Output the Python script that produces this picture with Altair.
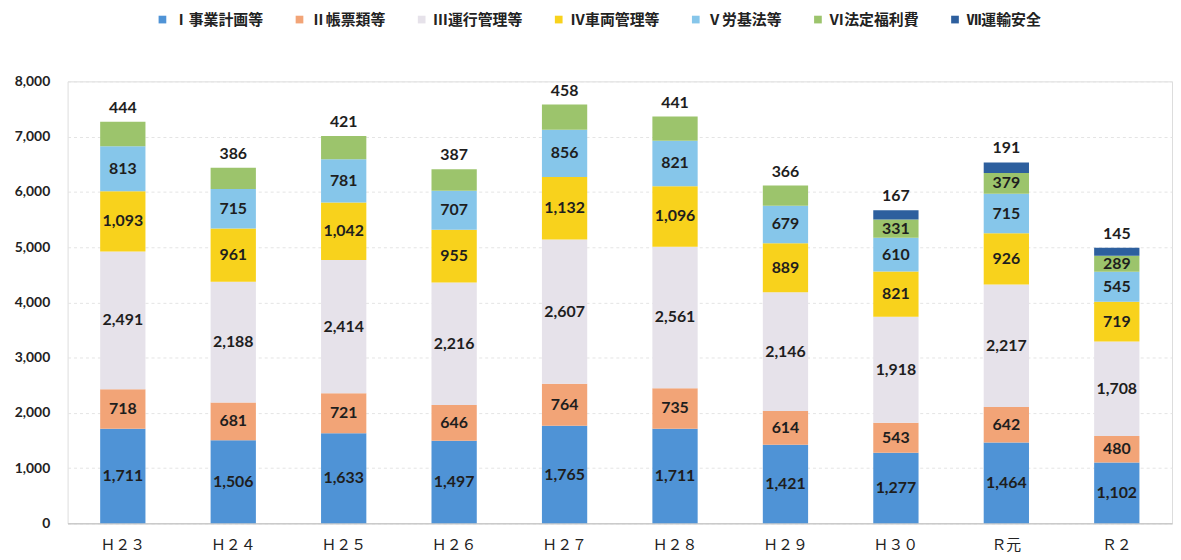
import altair as alt
import pandas as pd

categories = ["Ｈ２３", "Ｈ２４", "Ｈ２５", "Ｈ２６", "Ｈ２７", "Ｈ２８", "Ｈ２９", "Ｈ３０", "Ｒ元", "Ｒ２"]
series_names = ["Ⅰ事業計画等", "Ⅱ帳票類等", "Ⅲ運行管理等", "Ⅳ車両管理等", "Ⅴ労基法等", "Ⅵ法定福利費", "Ⅶ運輸安全"]
s1 = [1711, 1506, 1633, 1497, 1765, 1711, 1421, 1277, 1464, 1102]
s2 = [718, 681, 721, 646, 764, 735, 614, 543, 642, 480]
s3 = [2491, 2188, 2414, 2216, 2607, 2561, 2146, 1918, 2217, 1708]
s4 = [1093, 961, 1042, 955, 1132, 1096, 889, 821, 926, 719]
s5 = [813, 715, 781, 707, 856, 821, 679, 610, 715, 545]
s6 = [444, 386, 421, 387, 458, 441, 366, 331, 379, 289]
s7 = [0, 0, 0, 0, 0, 0, 0, 167, 191, 145]
colors = ["#4f93d6", "#f2a477", "#e6e2ea", "#f8d21c", "#86c6ea", "#9cc46c", "#2d5f9e"]

all_series = [s1, s2, s3, s4, s5, s6, s7]
rows = []
for ci, cat in enumerate(categories):
    vals = [s[ci] for s in all_series]
    last = max(i for i, v in enumerate(vals) if v > 0)
    for si, name in enumerate(series_names):
        rows.append({"cat": cat, "series": name, "order": si, "value": vals[si],
                     "top": si == last})
df = pd.DataFrame(rows)

num_font = "Lato"
jp_font = "Noto Sans CJK JP"

base = alt.Chart(df).transform_filter("datum.value > 0").transform_stack(
    stack="value", as_=["y0", "y1"], groupby=["cat"], sort=[alt.SortField("order", order="ascending")]
).transform_calculate(ymid="(datum.y0 + datum.y1) / 2")

xenc = alt.X("cat:N", sort=categories,
             scale=alt.Scale(paddingInner=0.59, paddingOuter=0.295),
             axis=alt.Axis(title=None, labelAngle=0, labelFont=jp_font, labelFontSize=15,
                           labelColor="#222", labelPadding=14, ticks=False,
                           domainColor="#bbbbbb", domainWidth=1))

bars = base.mark_bar().encode(
    x=xenc,
    y=alt.Y("y0:Q", scale=alt.Scale(domain=[0, 8000]),
            axis=alt.Axis(title=None, values=list(range(0, 8001, 1000)), format=",d",
                          labelFont=num_font, labelFontSize=14, labelColor="#222",
                          labelFontWeight="bold", labelPadding=18, ticks=False, domain=False,
                          grid=True, gridColor="#e4e4e4", gridDash=[3, 3])),
    y2="y1:Q",
    color=alt.Color("series:N", sort=series_names,
                    scale=alt.Scale(domain=series_names, range=colors),
                    legend=alt.Legend(title=None, orient="none", direction="horizontal",
                                      columns=7, legendX=88, legendY=-70,
                                      symbolType="square", symbolSize=60,
                                      labelFont=jp_font, labelFontSize=15,
                                      labelFontWeight="bold", labelColor="#222",
                                      columnPadding=28, symbolStrokeWidth=0)),
    order=alt.Order("order:Q"),
)

inner = base.transform_filter("!datum.top").mark_text(
    font=num_font, fontSize=16, fontWeight="bold", color="#1e1e1e"
).encode(x=alt.X("cat:N", sort=categories), y="ymid:Q", text=alt.Text("value:Q", format=",d"))

toplab = base.transform_filter("datum.top").mark_text(
    font=num_font, fontSize=16, fontWeight="bold", color="#1e1e1e", baseline="bottom", dy=-6
).encode(x=alt.X("cat:N", sort=categories), y="y1:Q", text=alt.Text("value:Q", format=",d"))

chart = alt.layer(bars, inner, toplab).properties(
    width=1112, height=445,
    autosize=alt.AutoSizeParams(type="none"),
    padding={"left": 60, "top": 72, "right": 1, "bottom": 34},
).configure_view(stroke=None).configure(background="white")

chart.save("out.html", embed_options={"renderer": "svg", "actions": False})
